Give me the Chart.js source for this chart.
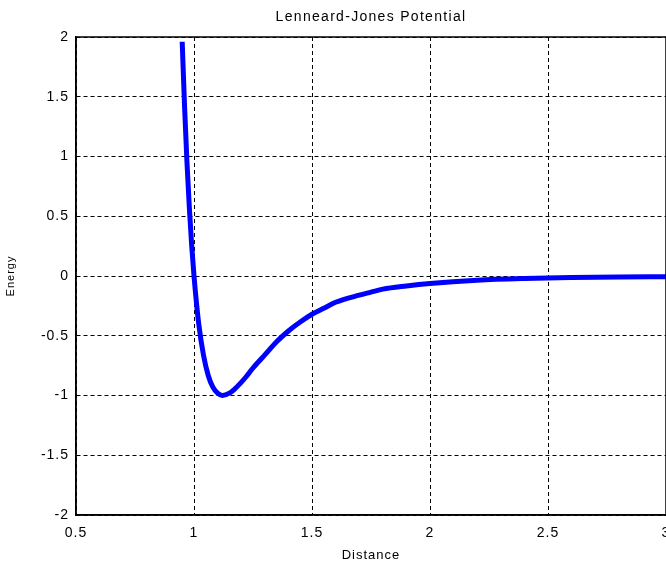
<!DOCTYPE html>
<html>
<head>
<meta charset="utf-8">
<script src="https://cdn.jsdelivr.net/npm/chart.js@4"></script>
<style>
  html, body { margin: 0; padding: 0; background: #fff; overflow: hidden; }
</style>
</head>
<body>
<canvas id="lj" width="700" height="565"></canvas>
<script>
// distance values (x)
var distance = [0.95, 0.96, 0.97, 0.98, 0.99, 1.0, 1.02, 1.04, 1.06, 1.08, 1.1, 1.12,
    1.15, 1.17, 1.2, 1.22, 1.25, 1.27, 1.3, 1.35, 1.4, 1.45, 1.5, 1.55, 1.6, 1.7, 1.75,
    1.8, 1.9, 2.0, 2.2, 2.4, 2.6, 2.8, 3.0]
// energy values (y)
var energy = [1.96, 1.42, 0.96, 0.58, 0.26, 0.0, -0.40, -0.66, -0.83, -0.93, -0.98, -1.0,
    -0.98, -0.95, -0.89, -0.845, -0.77, -0.725, -0.66, -0.55, -0.46, -0.385, -0.32, -0.27,
    -0.22, -0.16, -0.135, -0.11, -0.083, -0.062, -0.035, -0.021, -0.013, -0.008, -0.0055]

var xTicks = [0.5, 1, 1.5, 2, 2.5, 3]
var yTicks = [-2, -1.5, -1, -0.5, 0, 0.5, 1, 1.5, 2]

var points = distance.map((d, i) => ({ x: d, y: energy[i] }))

var fontFamily = 'Arial, "Liberation Sans", sans-serif'
var tickFont = { family: fontFamily, size: 14 }

// title + box around the plot area, matlab style
var boxPlugin = {
    id: 'box',
    beforeUpdate: function (chart) {
        chart.ctx.letterSpacing = '1px'
    },
    beforeDraw: function (chart) {
        chart.ctx.letterSpacing = '1px'
    },
    afterDraw: function (chart) {
        var a = chart.chartArea
        var ctx = chart.ctx
        ctx.save()
        ctx.strokeStyle = '#000'
        ctx.lineWidth = 1.5
        ctx.strokeRect(a.left, a.top, a.right - a.left, a.bottom - a.top)
        ctx.fillStyle = '#000'
        ctx.letterSpacing = '1.3px'
        ctx.font = '14px ' + fontFamily
        ctx.textAlign = 'center'
        ctx.textBaseline = 'middle'
        ctx.fillText('Lenneard-Jones Potential', (a.left + a.right) / 2, 17)
        ctx.restore()
    }
}

var ctx = document.getElementById('lj')

new Chart(ctx, {
    type: 'line',
    data: {
        datasets: [{
            label: 'Energy',
            data: points,
            borderColor: 'rgb(0, 0, 255)',
            borderWidth: 5,
            pointRadius: 0,
            cubicInterpolationMode: 'monotone',
            fill: false
        }]
    },
    options: {
        responsive: false,
        animation: false,
        layout: {
            padding: { top: 37, right: 34, left: 0, bottom: 0 }
        },
        plugins: {
            legend: { display: false },
            tooltip: { enabled: false }
        },
        scales: {
            x: {
                type: 'linear',
                min: 0.5,
                max: 3,
                afterFit: function (scale) { scale.height = 50 },
                afterBuildTicks: function (scale) { scale.ticks = xTicks.map(v => ({ value: v })) },
                ticks: { color: '#000', font: tickFont, padding: 10, maxRotation: 0, callback: v => String(v) },
                grid: { color: '#000', lineWidth: 1, drawTicks: false },
                border: { color: '#000', width: 1.5, dash: [4, 3] },
                title: {
                    display: true, text: 'Distance', color: '#000',
                    font: { family: fontFamily, size: 13 },
                    padding: { top: 0, bottom: 2 }
                }
            },
            y: {
                min: -2,
                max: 2,
                afterFit: function (scale) { scale.width = 76 },
                afterBuildTicks: function (scale) { scale.ticks = yTicks.map(v => ({ value: v })) },
                ticks: { color: '#000', font: tickFont, padding: 7, callback: v => String(v) },
                grid: { color: '#000', lineWidth: 1, drawTicks: false },
                border: { color: '#000', width: 1.5, dash: [4, 3] },
                title: {
                    display: true, text: 'Energy', color: '#000',
                    font: { family: fontFamily, size: 11 },
                    padding: { top: 4, bottom: 0 }
                }
            }
        }
    },
    plugins: [boxPlugin]
})
</script>
</body>
</html>
